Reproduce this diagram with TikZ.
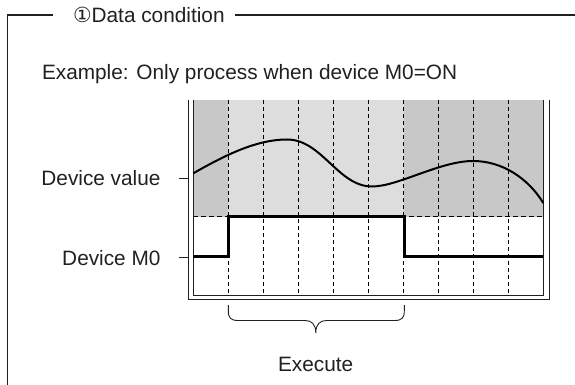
\documentclass[tikz,border=0pt]{standalone}
\usepackage{fontspec}
\setmainfont{Liberation Sans}
\newfontfamily\symfont{DejaVu Sans}
\definecolor{ink}{HTML}{231F20}
\definecolor{darkshade}{HTML}{C8C8C8}
\definecolor{lightshade}{HTML}{DDDDDD}
\begin{document}
\begin{tikzpicture}[x=1pt,y=-1pt,
  lbl/.style={inner sep=0pt,outer sep=0pt,text=ink,font=\fontsize{20.8}{24}\selectfont},
  frameline/.style={draw=ink,line width=1.8pt},
  chartframe/.style={draw=ink,line width=0.9pt},
  gridline/.style={draw=black,line width=0.9pt,dash pattern=on 4pt off 3pt},
  signal/.style={draw=black,line width=3pt},
  wave/.style={draw=black,line width=2pt},
  tickline/.style={draw=ink,line width=0.9pt},
  bracestyle/.style={draw=ink,line width=0.9pt}]
\useasboundingbox (0,0) rectangle (575,385);
% outer frame with title
\node[lbl,anchor=base west] (title) at (73,22.7) {{\symfont ①}Data condition};
\coordinate (fbl) at (7.5,386);
\coordinate (ftl) at (7.5,15);
\coordinate (ftm) at (53,15);
\coordinate (ftr) at (235,15);
\coordinate (fte) at (576,15);
\draw[frameline] (fbl) -- (ftl) -- (ftm);
\draw[frameline] (ftr) -- (fte);
% example text
\node[lbl,anchor=base west] (example) at (42,80) {Example: Only process when device M0=ON};
% shading
\fill[darkshade] (193.3,100) rectangle (228.3,216.5);
\fill[lightshade] (228.3,100) rectangle (404.3,216.5);
\fill[darkshade] (404.3,100) rectangle (543.3,216.5);
% grid lines
\foreach \k in {1,...,9}{
  \draw[gridline] (193.3+35*\k,100) -- (193.3+35*\k,295);
}
\draw[gridline,dash pattern=on 5pt off 3pt] (193.3,216.5) -- (543.3,216.5);
% chart frame (double)
\draw[chartframe] (188.3,100) -- (188.3,299.3) -- (549,299.3) -- (549,100);
\draw[chartframe] (193.3,100) -- (193.3,295) -- (543.3,295) -- (543.3,100);
% device value curve
\draw[wave] (193.3,173.3) .. controls (222,157) and (255,139.5) .. (287,139.5)
  .. controls (322,139.5) and (338,186.5) .. (372,186.5)
  .. controls (398,186.5) and (440,161) .. (473,161)
  .. controls (502,161) and (528,178) .. (543.3,203);
% device M0 signal
\draw[signal] (193.3,256.7) -- (228.3,256.7) -- (228.3,216.5) -- (404.3,216.5) -- (404.3,256.7) -- (543.3,256.7);
% labels and ticks
\node[lbl,anchor=base east] (dv) at (160.5,185) {Device value};
\node[lbl,anchor=base east] (m0) at (160.5,265) {Device M0};
\coordinate (dvt) at (178.5,178.3);
\coordinate (dvf) at (188.3,178.3);
\coordinate (m0t) at (178.5,257.7);
\coordinate (m0f) at (188.3,257.7);
\draw[tickline] (dvt) -- (dvf);
\draw[tickline] (m0t) -- (m0f);
% brace
\coordinate (bl) at (228.3,305);
\coordinate (br) at (404.3,305);
\coordinate (btip) at (315.8,333);
\draw[bracestyle] (bl) -- (228.3,311) .. controls (228.3,318) and (231,320.5) .. (238,320.5)
  -- (305,320.5) .. controls (311.5,320.5) and (315.8,324) .. (btip)
  .. controls (315.8,324) and (320.1,320.5) .. (326.6,320.5)
  -- (394.6,320.5) .. controls (401.6,320.5) and (404.3,318) .. (404.3,311) -- (br);
\node[lbl,anchor=base] (exec) at (315.7,371) {Execute};
\end{tikzpicture}
\end{document}
